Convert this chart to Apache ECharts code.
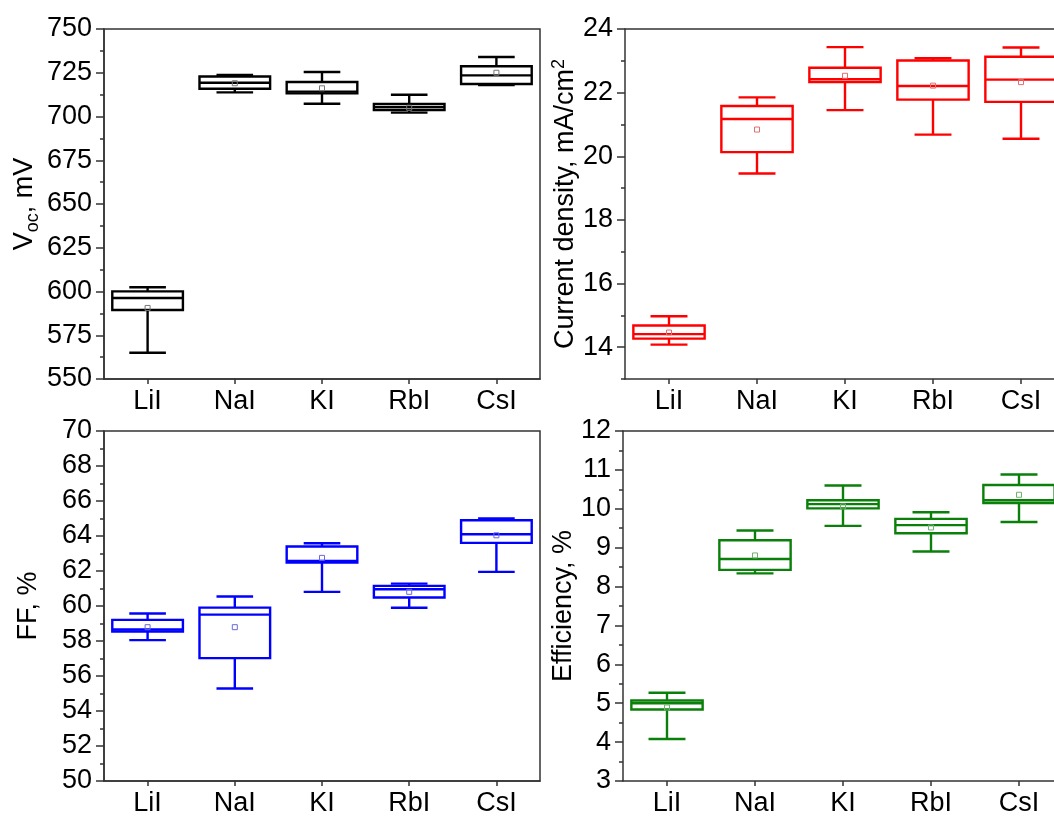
<!DOCTYPE html>
<html>
<head>
<meta charset="utf-8">
<script src="https://cdn.jsdelivr.net/npm/echarts@6/dist/echarts.min.js"></script>
<style>html,body{margin:0;padding:0;background:#fff;overflow:hidden;}#c{width:1054px;height:818px;}</style>
</head>
<body>
<div id="c"></div>
<script>
const categories = ['LiI', 'NaI', 'KI', 'RbI', 'CsI'];

const vocMin  = [565.0, 713.8, 707.3, 702.2, 718.0];
const vocQ1   = [589.4, 715.9, 713.2, 703.7, 718.6];
const vocMed  = [596.3, 719.3, 714.2, 705.4, 723.5];
const vocQ3   = [600.1, 722.9, 719.7, 707.2, 728.7];
const vocMax  = [602.4, 723.8, 725.4, 712.4, 734.0];
const vocMean = [590.6, 719.0, 716.1, 705.0, 725.0];

const jscMin  = [14.08, 19.46, 21.45, 20.68, 20.55];
const jscQ1   = [14.27, 20.13, 22.33, 21.78, 21.71];
const jscMed  = [14.41, 21.17, 22.42, 22.21, 22.41];
const jscQ3   = [14.68, 21.58, 22.78, 23.01, 23.13];
const jscMax  = [14.97, 21.85, 23.43, 23.08, 23.42];
const jscMean = [14.46, 20.84, 22.53, 22.22, 22.33];

const ffMin  = [58.05, 55.29, 60.81, 59.90, 61.95];
const ffQ1   = [58.54, 57.02, 62.48, 60.49, 63.61];
const ffMed  = [58.66, 59.51, 62.58, 60.96, 64.10];
const ffQ3   = [59.21, 59.91, 63.40, 61.15, 64.90];
const ffMax  = [59.57, 60.54, 63.59, 61.28, 65.01];
const ffMean = [58.79, 58.79, 62.75, 60.81, 64.04];

const effMin  = [4.08, 8.34, 9.56, 8.90, 9.66];
const effQ1   = [4.84, 8.43, 10.01, 9.37, 10.15];
const effMed  = [5.00, 8.71, 10.12, 9.58, 10.22];
const effQ3   = [5.07, 9.19, 10.22, 9.74, 10.61];
const effMax  = [5.27, 9.44, 10.60, 9.91, 10.88];
const effMean = [4.89, 8.80, 10.06, 9.52, 10.36];

const FONT = 'Liberation Sans, Arial, Helvetica, sans-serif';
const AX = '#333';

function rows(mn, q1, md, q3, mx, mean) {
  return categories.map((c, i) => [i + 1, mn[i], q1[i], md[i], q3[i], mx[i], mean[i]]);
}

function makeRender(color, meanColor) {
  return function (params, api) {
    const x = api.value(0);
    const unit = Math.min(api.size([1, 0])[0], 88);
    const hb = unit * 0.405;
    const hc = unit * 0.21;
    const pMin = api.coord([x, api.value(1)]);
    const pQ1 = api.coord([x, api.value(2)]);
    const pMed = api.coord([x, api.value(3)]);
    const pQ3 = api.coord([x, api.value(4)]);
    const pMax = api.coord([x, api.value(5)]);
    const pMean = api.coord([x, api.value(6)]);
    const cx = pMed[0];
    const lw = 2.4;
    const st = { stroke: color, lineWidth: lw, fill: null };
    return {
      type: 'group',
      children: [
        { type: 'line', shape: { x1: cx, y1: pQ3[1], x2: cx, y2: pMax[1] }, style: st },
        { type: 'line', shape: { x1: cx, y1: pQ1[1], x2: cx, y2: pMin[1] }, style: st },
        { type: 'line', shape: { x1: cx - hc, y1: pMax[1], x2: cx + hc, y2: pMax[1] }, style: st },
        { type: 'line', shape: { x1: cx - hc, y1: pMin[1], x2: cx + hc, y2: pMin[1] }, style: st },
        { type: 'rect', shape: { x: cx - hb, y: pQ3[1], width: 2 * hb, height: pQ1[1] - pQ3[1] }, style: { stroke: color, lineWidth: lw, fill: '#fff' } },
        { type: 'line', shape: { x1: cx - hb, y1: pMed[1], x2: cx + hb, y2: pMed[1] }, style: st },
        { type: 'rect', shape: { x: cx - 2.5, y: pMean[1] - 2.5, width: 5, height: 5 }, style: { stroke: meanColor, lineWidth: 1, fill: null } }
      ]
    };
  };
}

function xAx(gi, maxV) {
  return {
    type: 'value', gridIndex: gi, min: 0.5, max: maxV, position: 'bottom',
    axisLine: { show: true, lineStyle: { color: AX, width: 1.5 } },
    axisTick: { show: true, length: 5, inside: false, customValues: [1, 2, 3, 4, 5], lineStyle: { color: AX, width: 1.5 } },
    axisLabel: { customValues: [1, 2, 3, 4, 5], formatter: v => categories[Math.round(v) - 1] || '', fontSize: 27, color: '#000', fontFamily: FONT, margin: 9 },
    splitLine: { show: false }
  };
}

function topAx(gi, maxV) {
  return {
    type: 'value', gridIndex: gi, min: 0.5, max: maxV, position: 'top',
    axisLine: { show: true, lineStyle: { color: AX, width: 1.5 } },
    axisTick: { show: false }, axisLabel: { show: false }, splitLine: { show: false }
  };
}

function yAx(gi, mn, mx, step, name, gap, rich) {
  return {
    type: 'value', gridIndex: gi, min: mn, max: mx, interval: step, position: 'left',
    name: name, nameLocation: 'middle', nameGap: gap, nameRotate: 90,
    nameTextStyle: { fontSize: 27, color: '#000', fontFamily: FONT, rich: rich },
    axisLine: { show: true, onZero: false, lineStyle: { color: AX, width: 1.5 } },
    axisTick: { show: true, length: 8, inside: false, lineStyle: { color: AX, width: 1.5 } },
    minorTick: { show: true, splitNumber: 2, length: 4, lineStyle: { color: AX, width: 1.5 } },
    axisLabel: { fontSize: 27, color: '#000', fontFamily: FONT, margin: 12 },
    splitLine: { show: false }, minorSplitLine: { show: false }
  };
}

const chart = echarts.init(document.getElementById('c'), null, { renderer: 'canvas' });

const grids = [
  { left: 104, top: 29, width: 436, height: 350, show: true },
  { left: 625, top: 29, width: 448.8, height: 350, show: false },
  { left: 104, top: 431, width: 436, height: 350, show: true },
  { left: 623, top: 431, width: 448.8, height: 350, show: false }
].map(g => Object.assign(g, { borderColor: AX, borderWidth: 1.5, backgroundColor: 'transparent', containLabel: false, outerBoundsMode: 'none' }));

const jscAxis = yAx(1, 13, 24, 2, '{n|Current density, mA/cm}{p|2}', 43, {
  n: { fontSize: 27, fontFamily: FONT, color: '#000', lineHeight: 32 },
  p: { fontSize: 18, fontFamily: FONT, color: '#000', lineHeight: 18, verticalAlign: 'top' }
});
delete jscAxis.interval;
jscAxis.axisLabel.customValues = [14, 16, 18, 20, 22, 24];
jscAxis.axisTick.customValues = [14, 16, 18, 20, 22, 24];
jscAxis.minorTick = { show: false };

const jscMinor = {
  type: 'value', gridIndex: 1, min: 13, max: 24, interval: 1, position: 'left', offset: 0,
  axisLine: { show: false }, axisLabel: { show: false }, splitLine: { show: false },
  axisTick: { show: true, length: 4, inside: false, lineStyle: { color: AX, width: 1.5 } }
};

const option = {
  animation: false,
  backgroundColor: '#fff',
  grid: grids,
  xAxis: [xAx(0, 5.5), xAx(1, 5.6), xAx(2, 5.5), xAx(3, 5.6), topAx(1, 5.6), topAx(3, 5.6)],
  yAxis: [
    yAx(0, 550, 750, 25, '{v|V}{s|oc}{v|, mV}', 62, {
      v: { fontSize: 27, fontFamily: FONT, color: '#000', lineHeight: 34 },
      s: { fontSize: 18, fontFamily: FONT, color: '#000', lineHeight: 18, verticalAlign: 'bottom' }
    }),
    jscAxis,
    yAx(2, 50, 70, 2, 'FF, %', 62),
    yAx(3, 3, 12, 1, 'Efficiency, %', 41),
    jscMinor
  ],
  series: [
    { type: 'custom', xAxisIndex: 0, yAxisIndex: 0, renderItem: makeRender('#000', '#777'), data: rows(vocMin, vocQ1, vocMed, vocQ3, vocMax, vocMean), encode: { x: 0, y: [1, 2, 3, 4, 5] } },
    { type: 'custom', xAxisIndex: 1, yAxisIndex: 1, renderItem: makeRender('#ff0000', '#e07070'), data: rows(jscMin, jscQ1, jscMed, jscQ3, jscMax, jscMean), encode: { x: 0, y: [1, 2, 3, 4, 5] } },
    { type: 'custom', xAxisIndex: 2, yAxisIndex: 2, renderItem: makeRender('#0000ff', '#6a6ad8'), data: rows(ffMin, ffQ1, ffMed, ffQ3, ffMax, ffMean), encode: { x: 0, y: [1, 2, 3, 4, 5] } },
    { type: 'custom', xAxisIndex: 3, yAxisIndex: 3, renderItem: makeRender('#0a800a', '#70b070'), data: rows(effMin, effQ1, effMed, effQ3, effMax, effMean), encode: { x: 0, y: [1, 2, 3, 4, 5] } }
  ]
};
chart.setOption(option);
</script>
</body>
</html>
